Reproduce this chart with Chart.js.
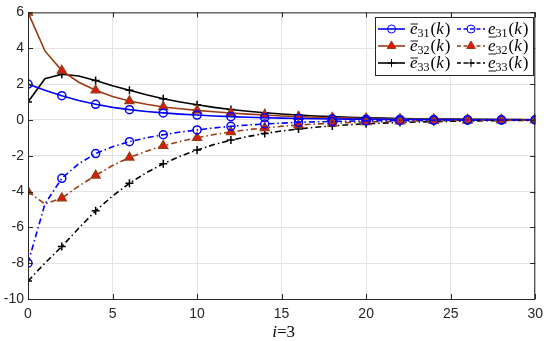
<!DOCTYPE html>
<html>
<head>
    <title>Errors i=3</title>
    <script src="https://cdn.jsdelivr.net/npm/chart.js"></script>
    <style>
        html, body { margin: 0; padding: 0; background: #fff; }
        #wrap { width: 550px; height: 341px; }
    </style>
</head>
<body>
    <div id="wrap"><canvas id="myChart" width="550" height="341"></canvas></div>
    <script>
        // k = 0..30
        const kValues = [0, 1, 2, 3, 4, 5, 6, 7, 8, 9, 10, 11, 12, 13, 14, 15, 16, 17, 18, 19, 20, 21, 22, 23, 24, 25, 26, 27, 28, 29, 30];

        // upper errors (solid)
        const eBar31 = [2.0, 1.65, 1.35, 1.08, 0.87, 0.70, 0.57, 0.47, 0.39, 0.32, 0.27, 0.22, 0.18, 0.15, 0.12, 0.10, 0.08, 0.065, 0.05, 0.04, 0.035, 0.03, 0.025, 0.02, 0.015, 0.012, 0.01, 0.008, 0.006, 0.005, 0.004];
        const eBar32 = [6.0, 3.85, 2.75, 2.1, 1.65, 1.3, 1.05, 0.87, 0.72, 0.62, 0.53, 0.45, 0.38, 0.32, 0.27, 0.22, 0.18, 0.15, 0.12, 0.10, 0.08, 0.065, 0.05, 0.04, 0.035, 0.03, 0.025, 0.02, 0.015, 0.012, 0.01];
        const eBar33 = [1.0, 2.3, 2.55, 2.45, 2.2, 1.9, 1.65, 1.4, 1.18, 1.0, 0.84, 0.7, 0.58, 0.48, 0.4, 0.33, 0.27, 0.22, 0.18, 0.15, 0.12, 0.1, 0.08, 0.065, 0.05, 0.04, 0.035, 0.03, 0.02, 0.015, 0.01];

        // lower errors (dashed)
        const eLow31 = [-8.0, -4.7, -3.26, -2.45, -1.88, -1.5, -1.22, -1.0, -0.83, -0.68, -0.56, -0.45, -0.36, -0.29, -0.23, -0.18, -0.14, -0.11, -0.09, -0.07, -0.055, -0.045, -0.035, -0.028, -0.022, -0.017, -0.013, -0.01, -0.008, -0.006, -0.005];
        const eLow32 = [-4.0, -4.7, -4.37, -3.7, -3.1, -2.55, -2.1, -1.75, -1.45, -1.2, -1.0, -0.82, -0.67, -0.55, -0.45, -0.36, -0.29, -0.23, -0.19, -0.15, -0.12, -0.1, -0.08, -0.06, -0.05, -0.04, -0.03, -0.025, -0.02, -0.015, -0.01];
        const eLow33 = [-9.0, -8.0, -7.07, -6.05, -5.08, -4.25, -3.54, -2.95, -2.45, -2.03, -1.68, -1.38, -1.13, -0.93, -0.76, -0.62, -0.51, -0.41, -0.34, -0.27, -0.22, -0.18, -0.15, -0.12, -0.1, -0.08, -0.06, -0.05, -0.04, -0.03, -0.025];

        const xTicks = [0, 5, 10, 15, 20, 25, 30];
        const yTicks = [-10, -8, -6, -4, -2, 0, 2, 4, 6];

        const BLUE = '#0000ff';
        const BROWN = '#9c3a12';
        const RED = '#e8140c';
        const BLACK = '#000000';
        const AXIS = '#262626';
        const DASHDOT = [6, 3, 1.5, 3];
        const SANS = '"Liberation Sans", Arial, Helvetica, sans-serif';
        const SERIF = '"Liberation Serif", "Times New Roman", Times, "DejaVu Serif", serif';

        function pts(arr) {
            return kValues.map((k, i) => ({ x: k, y: arr[i] }));
        }
        const everyOther = ctx => (ctx.dataIndex % 2 === 0 ? 4 : 0);
        const everyOtherTri = ctx => (ctx.dataIndex % 2 === 0 ? 5 : 0);

        const styles = {
            circle:   { line: BLUE,  point: 'circle',   fill: 'rgba(0,0,0,0)', edge: BLUE,  r: 4 },
            triangle: { line: BROWN, point: 'triangle', fill: RED,             edge: BROWN, r: 5 },
            cross:    { line: BLACK, point: 'cross',    fill: BLACK,           edge: BLACK, r: 4 }
        };

        function makeSet(label, arr, st, dashed) {
            const rad = st.r === 5 ? everyOtherTri : everyOther;
            return {
                label: label,
                data: pts(arr),
                borderColor: st.line,
                borderWidth: 1.6,
                borderDash: dashed ? DASHDOT : [],
                pointStyle: st.point,
                pointRadius: rad,
                pointHoverRadius: rad,
                pointBackgroundColor: st.fill,
                pointBorderColor: st.edge,
                pointBorderWidth: 1.5,
                tension: 0,
                fill: false
            };
        }

        const datasets = [
            makeSet('e31 low', eLow31, styles.circle, true),
            makeSet('e32 low', eLow32, styles.triangle, true),
            makeSet('e33 low', eLow33, styles.cross, true),
            makeSet('e31 bar', eBar31, styles.circle, false),
            makeSet('e32 bar', eBar32, styles.triangle, false),
            makeSet('e33 bar', eBar33, styles.cross, false)
        ];

        // e with over/under bar, subscript and (k)
        function mathLabel(ctx, x, y, sub, bar) {
            ctx.save();
            ctx.fillStyle = '#000';
            ctx.strokeStyle = '#000';
            ctx.textBaseline = 'alphabetic';
            ctx.textAlign = 'left';
            const base = y + 5;
            ctx.font = 'italic 17px ' + SERIF;
            ctx.fillText('e', x, base);
            const we = ctx.measureText('e').width;
            ctx.lineWidth = 0.9;
            ctx.beginPath();
            const by = bar === 'over' ? base - 10 : base + 3;
            ctx.moveTo(x + 0.5, by);
            ctx.lineTo(x + we + 0.5, by);
            ctx.stroke();
            let cx = x + we;
            ctx.font = '12px ' + SERIF;
            ctx.fillText(sub, cx, base + 3);
            cx += ctx.measureText(sub).width + 1;
            ctx.font = '17px ' + SERIF;
            ctx.fillText('(', cx, base);
            cx += ctx.measureText('(').width;
            ctx.font = 'italic 17px ' + SERIF;
            ctx.fillText('k', cx, base);
            cx += ctx.measureText('k').width + 1;
            ctx.font = '17px ' + SERIF;
            ctx.fillText(')', cx, base);
            ctx.restore();
        }

        function legendSample(ctx, x1, x2, y, st, dashed) {
            ctx.save();
            ctx.strokeStyle = st.line;
            ctx.lineWidth = 1.6;
            ctx.setLineDash(dashed ? [4, 2.5] : []);
            ctx.beginPath();
            ctx.moveTo(x1, y);
            ctx.lineTo(x2, y);
            ctx.stroke();
            ctx.restore();
            Chart.helpers.drawPoint(ctx, {
                pointStyle: st.point, radius: st.r, borderWidth: 1.5
            }, (x1 + x2) / 2, y);
        }

        const framePlugin = {
            id: 'frame',
            afterDatasetsDraw(chart) {
                const ctx = chart.ctx;
                const a = chart.chartArea;
                ctx.save();
                // box and inward ticks
                ctx.strokeStyle = AXIS;
                ctx.lineWidth = 1;
                ctx.strokeRect(a.left + 0.5, a.top + 0.5, a.right - a.left - 1, a.bottom - a.top);
                const xs = chart.scales.x, ys = chart.scales.y;
                ctx.beginPath();
                xTicks.forEach(v => {
                    const px = Math.round(xs.getPixelForValue(v)) + 0.5;
                    ctx.moveTo(px, a.bottom); ctx.lineTo(px, a.bottom - 5);
                    ctx.moveTo(px, a.top); ctx.lineTo(px, a.top + 5);
                });
                yTicks.forEach(v => {
                    const py = Math.round(ys.getPixelForValue(v)) + 0.5;
                    ctx.moveTo(a.left, py); ctx.lineTo(a.left + 5, py);
                    ctx.moveTo(a.right, py); ctx.lineTo(a.right - 5, py);
                });
                ctx.stroke();

                // x title: i=3
                ctx.fillStyle = '#000';
                ctx.textBaseline = 'alphabetic';
                ctx.textAlign = 'left';
                ctx.font = 'italic 17px ' + SERIF;
                const wi = ctx.measureText('i').width;
                ctx.font = '17px ' + SERIF;
                const wr = ctx.measureText('=3').width;
                const tx = (a.left + a.right) / 2 - (wi + wr) / 2 + 2;
                ctx.font = 'italic 17px ' + SERIF;
                ctx.fillText('i', tx, 337);
                ctx.font = '17px ' + SERIF;
                ctx.fillText('=3', tx + wi, 337);

                // legend
                const lx = 375, ly = 17, lw = 158, lh = 58;
                ctx.fillStyle = '#fff';
                ctx.fillRect(lx, ly, lw, lh);
                ctx.strokeStyle = AXIS;
                ctx.lineWidth = 1;
                ctx.strokeRect(lx + 0.5, ly + 0.5, lw, lh);
                ctx.restore();

                const rows = [
                    { sub: '31', st: styles.circle },
                    { sub: '32', st: styles.triangle },
                    { sub: '33', st: styles.cross }
                ];
                rows.forEach((r, i) => {
                    const ry = 29 + i * 17;
                    ctx.save();
                    ctx.fillStyle = r.st.fill;
                    ctx.strokeStyle = r.st.edge;
                    legendSample(ctx, 378, 405, ry, r.st, false);
                    ctx.restore();
                    mathLabel(ctx, 410, ry, r.sub, 'over');
                    ctx.save();
                    ctx.fillStyle = r.st.fill;
                    ctx.strokeStyle = r.st.edge;
                    legendSample(ctx, 457, 485, ry, r.st, true);
                    ctx.restore();
                    mathLabel(ctx, 488, ry, r.sub, 'under');
                });
            }
        };

        const ctx = document.getElementById('myChart').getContext('2d');
        new Chart(ctx, {
            type: 'line',
            data: { datasets: datasets },
            plugins: [framePlugin],
            options: {
                responsive: false,
                animation: false,
                events: [],
                layout: { padding: { top: 9, right: 10, left: 0, bottom: 0 } },
                plugins: {
                    legend: { display: false },
                    tooltip: { enabled: false }
                },
                scales: {
                    x: {
                        type: 'linear',
                        min: 0,
                        max: 30,
                        afterBuildTicks: s => { s.ticks = xTicks.map(v => ({ value: v })); },
                        afterFit: s => { s.height = 42; },
                        grid: { color: '#e3e3e3', lineWidth: 1, tickLength: 0, drawTicks: false },
                        border: { display: false },
                        ticks: {
                            color: AXIS,
                            padding: 7,
                            maxRotation: 0,
                            font: { family: SANS, size: 14 }
                        }
                    },
                    y: {
                        min: -10,
                        max: 6,
                        afterBuildTicks: s => { s.ticks = yTicks.map(v => ({ value: v })); },
                        afterFit: s => { s.width = 28; },
                        grid: { color: '#e3e3e3', lineWidth: 1, tickLength: 0, drawTicks: false },
                        border: { display: false },
                        ticks: {
                            color: AXIS,
                            padding: 4,
                            font: { family: SANS, size: 14 }
                        }
                    }
                }
            }
        });
    </script>
</body>
</html>
